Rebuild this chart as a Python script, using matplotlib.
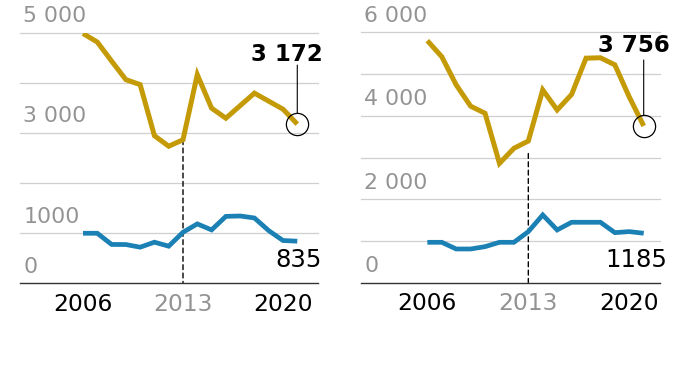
import matplotlib

matplotlib.use("Agg")
import matplotlib.pyplot as plt
from matplotlib.transforms import blended_transform_factory

# values
years = list(range(2006, 2022))
left_gold = [4980, 4810, 4430, 4060, 3960, 2940, 2730, 2860,
             4160, 3490, 3290, 3540, 3790, 3630, 3470, 3172]
left_blue = [993, 993, 770, 768, 715, 815, 735, 1013,
             1180, 1060, 1330, 1338, 1298, 1046, 848, 835]
right_gold = [5800, 5415, 4740, 4230, 4060, 2860, 3220, 3395,
              4620, 4140, 4510, 5380, 5390, 5220, 4450, 3756]
right_blue = [968, 968, 808, 808, 864, 968, 968, 1224,
              1624, 1264, 1448, 1448, 1448, 1200, 1224, 1185]

left_grid = [1000, 2000, 3000, 4000, 5000]
right_grid = [1000, 2000, 3000, 4000, 5000, 6000]
left_yticks = [0, 1000, 3000, 5000]
left_ylabels = ["0", "1000", "3 000", "5 000"]
right_yticks = [0, 2000, 4000, 6000]
right_ylabels = ["0", "2 000", "4 000", "6 000"]
year_ticks = [2006, 2013, 2020]
year_labels = ["2006", "2013", "2020"]
marker_year = 2013
left_callouts = ["3 172", "835"]
right_callouts = ["3 756", "1185"]

GOLD = "#c49a06"
BLUE = "#1b80b4"
GRID = "#cfcfcf"
GREY = "#939393"
FONT = "DejaVu Sans"


def draw_panel(ax, gold, blue, grid, yticks, ylabels, callouts, xlim, ymax,
               dash_gap, lead, gold_off, blue_off):
    ax.set_xlim(*xlim)
    ax.set_ylim(0, ymax)
    for s in ("left", "right", "top"):
        ax.spines[s].set_visible(False)
    ax.spines["bottom"].set_color("#333333")
    ax.spines["bottom"].set_linewidth(1.0)
    ax.set_yticks([])
    for g in grid:
        ax.axhline(g, color=GRID, lw=0.9, clip_on=False, zorder=1)

    yt = blended_transform_factory(ax.transAxes, ax.transData)
    for v, t in zip(yticks, ylabels):
        ax.annotate(t, xy=(0, v), xycoords=yt, xytext=(2.5, 7.5),
                    textcoords="offset points", ha="left", va="baseline",
                    fontsize=15.8, color=GREY, family=FONT)

    i13 = years.index(marker_year)
    ax.annotate("", xy=(marker_year, 0), xycoords="data",
                xytext=(marker_year, gold[i13]), textcoords="data",
                arrowprops=dict(arrowstyle="-", color="black", lw=1.0,
                                ls=(0, (3.5, 2.5)), shrinkA=dash_gap, shrinkB=0),
                zorder=2)

    ax.plot(years, blue, color=BLUE, lw=3.4, solid_capstyle="butt",
            solid_joinstyle="miter", zorder=3)
    ax.plot(years, gold, color=GOLD, lw=3.6, solid_capstyle="butt",
            solid_joinstyle="miter", zorder=4)

    # circle and leader on the last gold value
    ax.plot(years[-1], gold[-1], marker="o", ms=16, mfc="none", mec="black",
            mew=0.9, zorder=5, clip_on=False)
    ax.annotate("", xy=(years[-1], gold[-1]), xytext=(0, lead),
                textcoords="offset points",
                arrowprops=dict(arrowstyle="-", color="black", lw=0.8,
                                shrinkA=0, shrinkB=8), zorder=5)
    ax.annotate(callouts[0], xy=(years[-1], gold[-1]), xytext=gold_off,
                textcoords="offset points", ha="right", va="baseline",
                fontsize=16.5, fontweight="bold", family=FONT, color="black")
    ax.annotate(callouts[1], xy=(years[-1], blue[-1]), xytext=blue_off,
                textcoords="offset points", ha="right", va="baseline",
                fontsize=17.6, family=FONT, color="black")

    ax.set_xticks(year_ticks, year_labels)
    ax.tick_params(axis="x", length=0, pad=7, labelsize=16.8)
    for lab in ax.get_xticklabels():
        lab.set_family(FONT)
        lab.set_color(GREY if lab.get_text() == str(marker_year) else "black")


fig = plt.figure(figsize=(6.88, 3.85), dpi=100)
ax1 = fig.add_axes([0.0291, 0.2649, 0.4331, 0.6506])
ax2 = fig.add_axes([0.5243, 0.2657, 0.4350, 0.6504])

draw_panel(ax1, left_gold, left_blue, left_grid, left_yticks, left_ylabels,
           left_callouts, (2001.59, 2022.45), 5000, 0, 42.5,
           (18, 45.4), (17.3, -18.7))
draw_panel(ax2, right_gold, right_blue, right_grid, right_yticks, right_ylabels,
           right_callouts, (2001.38, 2022.13), 6000, 9, 47.5,
           (18.9, 53.3), (16.8, -24.5))

fig.savefig("out.png", dpi=100)
